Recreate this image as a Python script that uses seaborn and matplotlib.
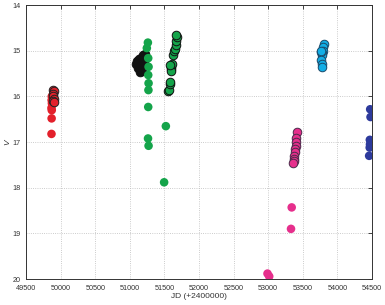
import matplotlib.pyplot as plt
import numpy as np
import pandas as pd
import seaborn as sns

sns.set_style("white")
plt.rcParams['font.family'] = ['Liberation Sans', 'DejaVu Sans']

# light curve groups: JD - 2400000 and V magnitude
red_jd = [49870, 49868, 49872, 49866, 49870, 49868, 49866]
red_v = [16.00, 16.08, 16.15, 16.25, 16.30, 16.48, 16.82]
red_e_jd = [49895, 49900, 49890, 49895, 49900, 49892, 49898]
red_e_v = [15.85, 15.88, 15.95, 16.00, 16.05, 16.10, 16.12]

blk_jd = [51090, 51110, 51130, 51150, 51170, 51190, 51210, 51120, 51140, 51160,
          51180, 51200, 51100, 51130, 51160, 51190, 51220, 51150, 51180, 51210]
blk_v = [15.28, 15.30, 15.32, 15.30, 15.26, 15.20, 15.12, 15.38, 15.40, 15.42,
         15.35, 15.25, 15.22, 15.18, 15.15, 15.10, 15.08, 15.46, 15.45, 15.20]

grn_jd = [51260, 51245, 51265, 51270, 51265, 51270, 51268, 51265, 51262, 51270,
          51520, 51495]
grn_v = [14.82, 14.94, 15.16, 15.35, 15.53, 15.71, 15.86, 16.23, 16.92, 17.08,
         16.65, 17.88]
grn_e_jd = [51550, 51560, 51575, 51580, 51590, 51600, 51610, 51620, 51640, 51650,
            51660, 51670, 51680, 51660, 51600, 51585]
grn_e_v = [15.88, 15.85, 15.72, 15.68, 15.40, 15.35, 15.28, 15.10, 15.00, 14.95,
           14.88, 14.78, 14.70, 14.65, 15.45, 15.30]

mag_jd = [52990, 53015, 53340, 53330]
mag_v = [19.88, 19.94, 18.43, 18.90]
mag_e_jd = [53410, 53405, 53400, 53395, 53390, 53385, 53380, 53375, 53370, 53365]
mag_e_v = [16.78, 16.90, 17.00, 17.08, 17.15, 17.22, 17.30, 17.36, 17.42, 17.46]

cyn_jd = [53800, 53795, 53790, 53785, 53780, 53770, 53760, 53765, 53775, 53780]
cyn_v = [14.86, 14.92, 15.00, 15.05, 15.10, 15.02, 15.00, 15.20, 15.28, 15.35]

nvy_jd = [54475, 54480, 54470, 54472, 54468, 54460]
nvy_v = [16.28, 16.45, 16.95, 17.05, 17.12, 17.30]

groups = [
    (red_jd, red_v, "#e3202b", "none"),
    (red_e_jd, red_e_v, "#e3202b", "#222222"),
    (blk_jd, blk_v, "#111111", "#111111"),
    (grn_jd, grn_v, "#14a44a", "none"),
    (grn_e_jd, grn_e_v, "#14a44a", "#111111"),
    (mag_jd, mag_v, "#e62f8c", "none"),
    (mag_e_jd, mag_e_v, "#e62f8c", "#4a2a4a"),
    (cyn_jd, cyn_v, "#12aee6", "#1a4a6a"),
    (nvy_jd, nvy_v, "#2d3a9c", "none"),
]

fig = plt.figure(figsize=(3.85, 3.05), dpi=100)
ax = fig.add_axes([0.068, 0.085, 0.898, 0.898])

for jd, v, fc, ec in groups:
    df = pd.DataFrame({"JD": jd, "V": v})
    sns.scatterplot(data=df, x="JD", y="V", ax=ax, color=fc, edgecolor=ec,
                    linewidth=0.7, s=38, zorder=3)

ax.set_xlim(49500, 54500)
ax.set_ylim(20, 14)
ax.set_xticks(np.arange(49500, 54501, 500))
ax.set_yticks(np.arange(14, 20.1, 1))
ax.set_xticklabels([str(t) for t in range(49500, 54501, 500)])
ax.set_yticklabels([str(t) for t in range(14, 21)])
ax.grid(True, linestyle=":", color="#bbbbbb", linewidth=0.6)
ax.tick_params(direction="in", top=True, right=True, length=3, width=0.6,
               labelsize=5.2, labelcolor="#333333")
ax.tick_params(axis="x", pad=4)
ax.tick_params(axis="y", pad=4)
for sp in ax.spines.values():
    sp.set_linewidth(0.7)
    sp.set_color("#333333")
ax.set_xlabel("JD (+2400000)", fontsize=6, color="#333333", labelpad=1)
ax.set_ylabel("V", fontsize=6, color="#333333", labelpad=1, fontstyle="italic")

fig.savefig("out.png", dpi=100)
